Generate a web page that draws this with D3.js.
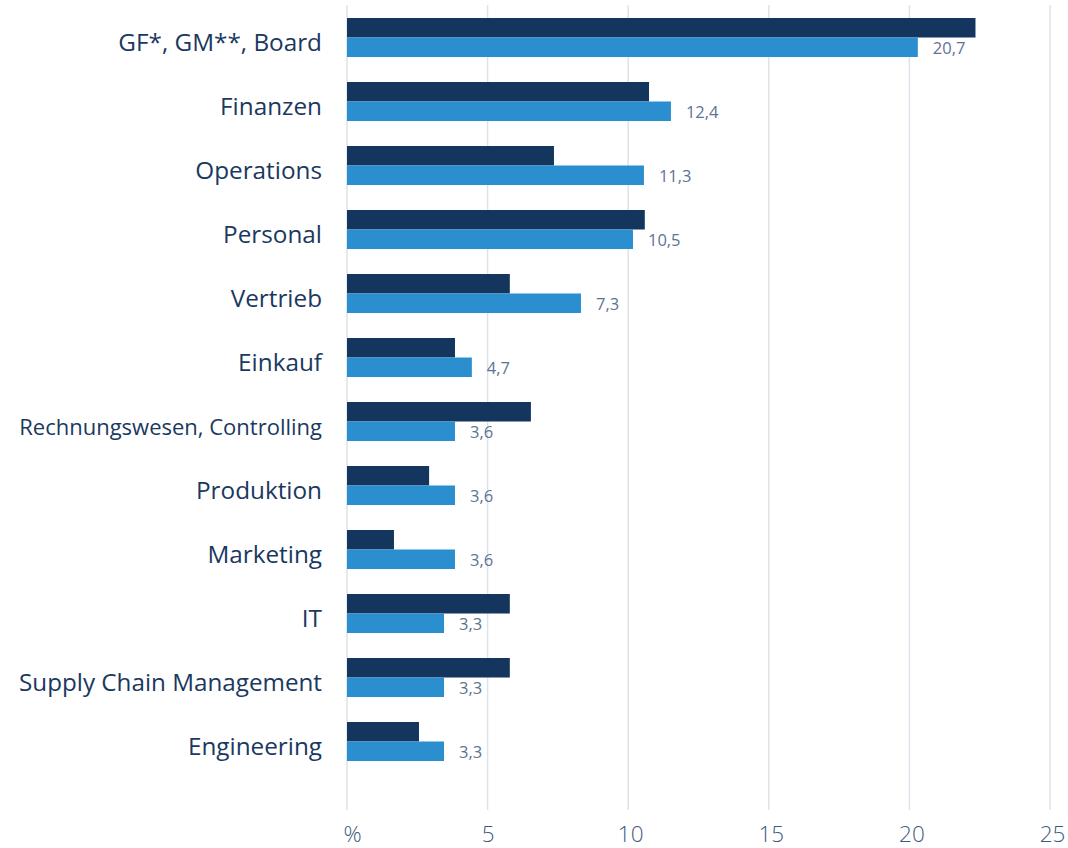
<!DOCTYPE html>
<html>
<head>
<meta charset="utf-8">
<script src="https://cdn.jsdelivr.net/npm/d3@7"></script>
<style>
  html, body { margin: 0; padding: 0; background: #ffffff; }
  svg { display: block; font-family: "Open Sans", "Noto Sans", sans-serif; }
</style>
</head>
<body>
<svg id="chart" width="1068" height="848"></svg>
<script>
const categories = ["GF*, GM**, Board", "Finanzen", "Operations", "Personal", "Vertrieb", "Einkauf",
  "Rechnungswesen, Controlling", "Produktion", "Marketing", "IT", "Supply Chain Management", "Engineering"];
const seriesDark  = [22.35, 10.74, 7.36, 10.59, 5.79, 3.84, 6.54, 2.92, 1.67, 5.79, 5.79, 2.56];
const seriesLight = [20.30, 11.52, 10.56, 10.17, 8.32, 4.44, 3.84, 3.84, 3.84, 3.45, 3.45, 3.45];
const valueLabels = ["20,7", "12,4", "11,3", "10,5", "7,3", "4,7", "3,6", "3,6", "3,6", "3,3", "3,3", "3,3"];
const xTicks = [0, 5, 10, 15, 20, 25];
const xTickLabels = ["%", "5", "10", "15", "20", "25"];

const svg = d3.select("#chart");
const x = d3.scaleLinear().domain([0, 25]).range([347, 1050]);
const y = d3.scaleBand().domain(categories).range([5.5, 773.5])
  .paddingInner(25 / 64).paddingOuter(12.5 / 64);
const sub = d3.scaleBand().domain(["dark", "light"]).range([0, y.bandwidth()]);

const colors = { dark: "#14355d", light: "#2b8fcf" };

// gridlines
svg.append("g").selectAll("line").data(xTicks).join("line")
  .attr("x1", d => x(d)).attr("x2", d => x(d))
  .attr("y1", 5).attr("y2", 810)
  .attr("stroke", "#dce3ea").attr("stroke-width", 1.5);

// x tick labels
const xAxis = d3.axisBottom(x).tickValues(xTicks)
  .tickFormat((d, i) => xTickLabels[i]).tickSize(0).tickPadding(0);
const gx = svg.append("g").attr("transform", "translate(0,842)").call(xAxis);
gx.select(".domain").remove();
gx.selectAll("text")
  .attr("y", 0).attr("dy", 0)
  .attr("dx", d => d === 0 ? 5 : (d >= 10 ? 2 : 0))
  .attr("font-family", "'Open Sans', sans-serif")
  .attr("font-size", 22.5).attr("font-weight", 300)
  .attr("fill", "#3f5a7e");

const data = categories.map((c, i) => ({ c, dark: seriesDark[i], light: seriesLight[i], label: valueLabels[i] }));

const groups = svg.append("g").selectAll("g").data(data).join("g")
  .attr("transform", d => `translate(0,${y(d.c)})`);

groups.append("rect")
  .attr("x", x(0)).attr("y", sub("dark"))
  .attr("width", d => x(d.dark) - x(0)).attr("height", sub.bandwidth())
  .attr("fill", colors.dark);

groups.append("rect")
  .attr("x", x(0)).attr("y", sub("light"))
  .attr("width", d => x(d.light) - x(0)).attr("height", sub.bandwidth())
  .attr("fill", colors.light);

groups.append("text")
  .attr("x", d => x(d.light) + 15)
  .attr("y", sub("light") + sub.bandwidth() / 2 + 7)
  .attr("font-size", 16.5).attr("font-weight", 400)
  .attr("fill", "#607393")
  .text(d => d.label);

// category labels
const maxLabelWidth = 303;
groups.append("text")
  .attr("x", 322)
  .attr("y", y.bandwidth() / 2 + 13)
  .attr("text-anchor", "end")
  .attr("font-size", 24.3)
  .attr("fill", "#1a3860")
  .text(d => d.c)
  .each(function () {
    const w = this.getComputedTextLength();
    if (w > maxLabelWidth) {
      d3.select(this).attr("font-size", 24.3 * maxLabelWidth / w);
    }
  });
</script>
</body>
</html>
